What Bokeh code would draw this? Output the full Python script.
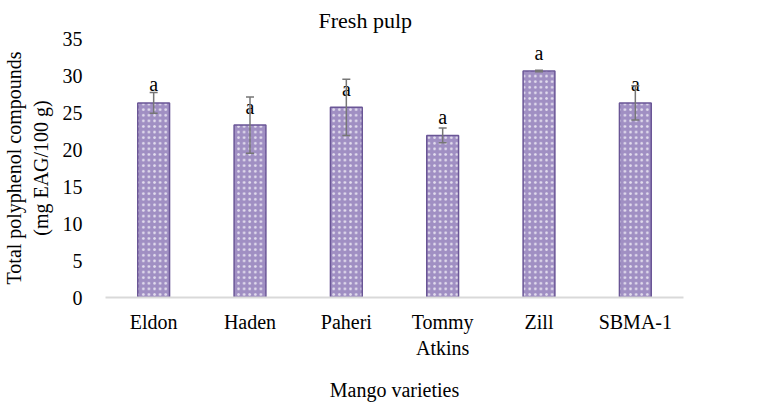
from bokeh.plotting import figure
from bokeh.models import ColumnDataSource, Whisker, Range1d, FixedTicker, Title, TeeHead, FactorRange
from bokeh.core.properties import value
from bokeh.embed import file_html
from bokeh.resources import INLINE

varieties = ["Eldon", "Haden", "Paheri", "Tommy\nAtkins", "Zill", "SBMA-1"]
polyphenols = [26.3, 23.3, 25.7, 21.9, 30.6, 26.3]
errors = [1.4, 3.8, 3.8, 1.0, 0.1, 2.3]
letters = ["a", "a", "a", "a", "a", "a"]
y_ticks = [0, 5, 10, 15, 20, 25, 30, 35]

FONT = "Liberation Serif"
src = ColumnDataSource(dict(
    x=varieties, top=polyphenols,
    upper=[v + e for v, e in zip(polyphenols, errors)],
    lower=[v - e for v, e in zip(polyphenols, errors)],
    letter=letters,
))

p = figure(frame_width=578, frame_height=259, output_backend="svg", toolbar_location=None,
           x_range=FactorRange(*varieties, range_padding=0), y_range=Range1d(0, 35),
           min_border_left=104, min_border_right=70, min_border_top=37, min_border_bottom=0)
p.outline_line_color = None
p.xgrid.grid_line_color = None
p.ygrid.grid_line_color = None

p.vbar(x="x", top="top", width=0.33, source=src,
       fill_color="#a08fc3", line_color="#6a5696", line_width=1.5,
       hatch_pattern="dot", hatch_color="white", hatch_scale=5.6,
       hatch_weight=1.5, hatch_alpha=0.7)

w = Whisker(base="x", upper="upper", lower="lower", source=src,
            line_color="#767676", line_width=1.5, level="overlay",
            upper_head=TeeHead(size=8, line_color="#767676", line_width=1.5),
            lower_head=TeeHead(size=8, line_color="#767676", line_width=1.5))
p.add_layout(w)

p.text(x="x", y="top", text="letter", source=src, y_offset=-18.5,
       text_align="center", text_baseline="middle",
       text_font=value(FONT), text_font_size="20px", text_color="#000000")

t = Title(text="Fresh pulp", align="left", offset=213, standoff=11,
          text_font=FONT, text_font_size="22px", text_font_style="normal",
          text_color="#000000")
p.add_layout(t, "above")

xa = p.xaxis[0]
xa.axis_line_color = "#d9d9d9"
xa.axis_line_width = 2
xa.major_tick_line_color = None
xa.minor_tick_line_color = None
xa.major_label_standoff = 7
xa.major_label_text_font = FONT
xa.major_label_text_font_size = "20px"
xa.major_label_text_color = "#000000"
xa.axis_label = "Mango varieties"
xa.axis_label_text_font = FONT
xa.axis_label_text_font_size = "20px"
xa.axis_label_text_font_style = "normal"
xa.axis_label_text_color = "#000000"
xa.axis_label_standoff = 17

ya = p.yaxis[0]
ya.ticker = FixedTicker(ticks=y_ticks)
ya.axis_line_color = None
ya.major_tick_line_color = None
ya.minor_tick_line_color = None
ya.major_label_standoff = 17
ya.major_label_text_font = FONT
ya.major_label_text_font_size = "20px"
ya.major_label_text_color = "#000000"
ya.axis_label = "Total polyphenol compounds\n(mg EAG/100 g)"
ya.axis_label_text_font = FONT
ya.axis_label_text_font_size = "20px"
ya.axis_label_text_font_style = "normal"
ya.axis_label_text_color = "#000000"
ya.axis_label_standoff = 8

open("out.html", "w").write(file_html(p, INLINE))
